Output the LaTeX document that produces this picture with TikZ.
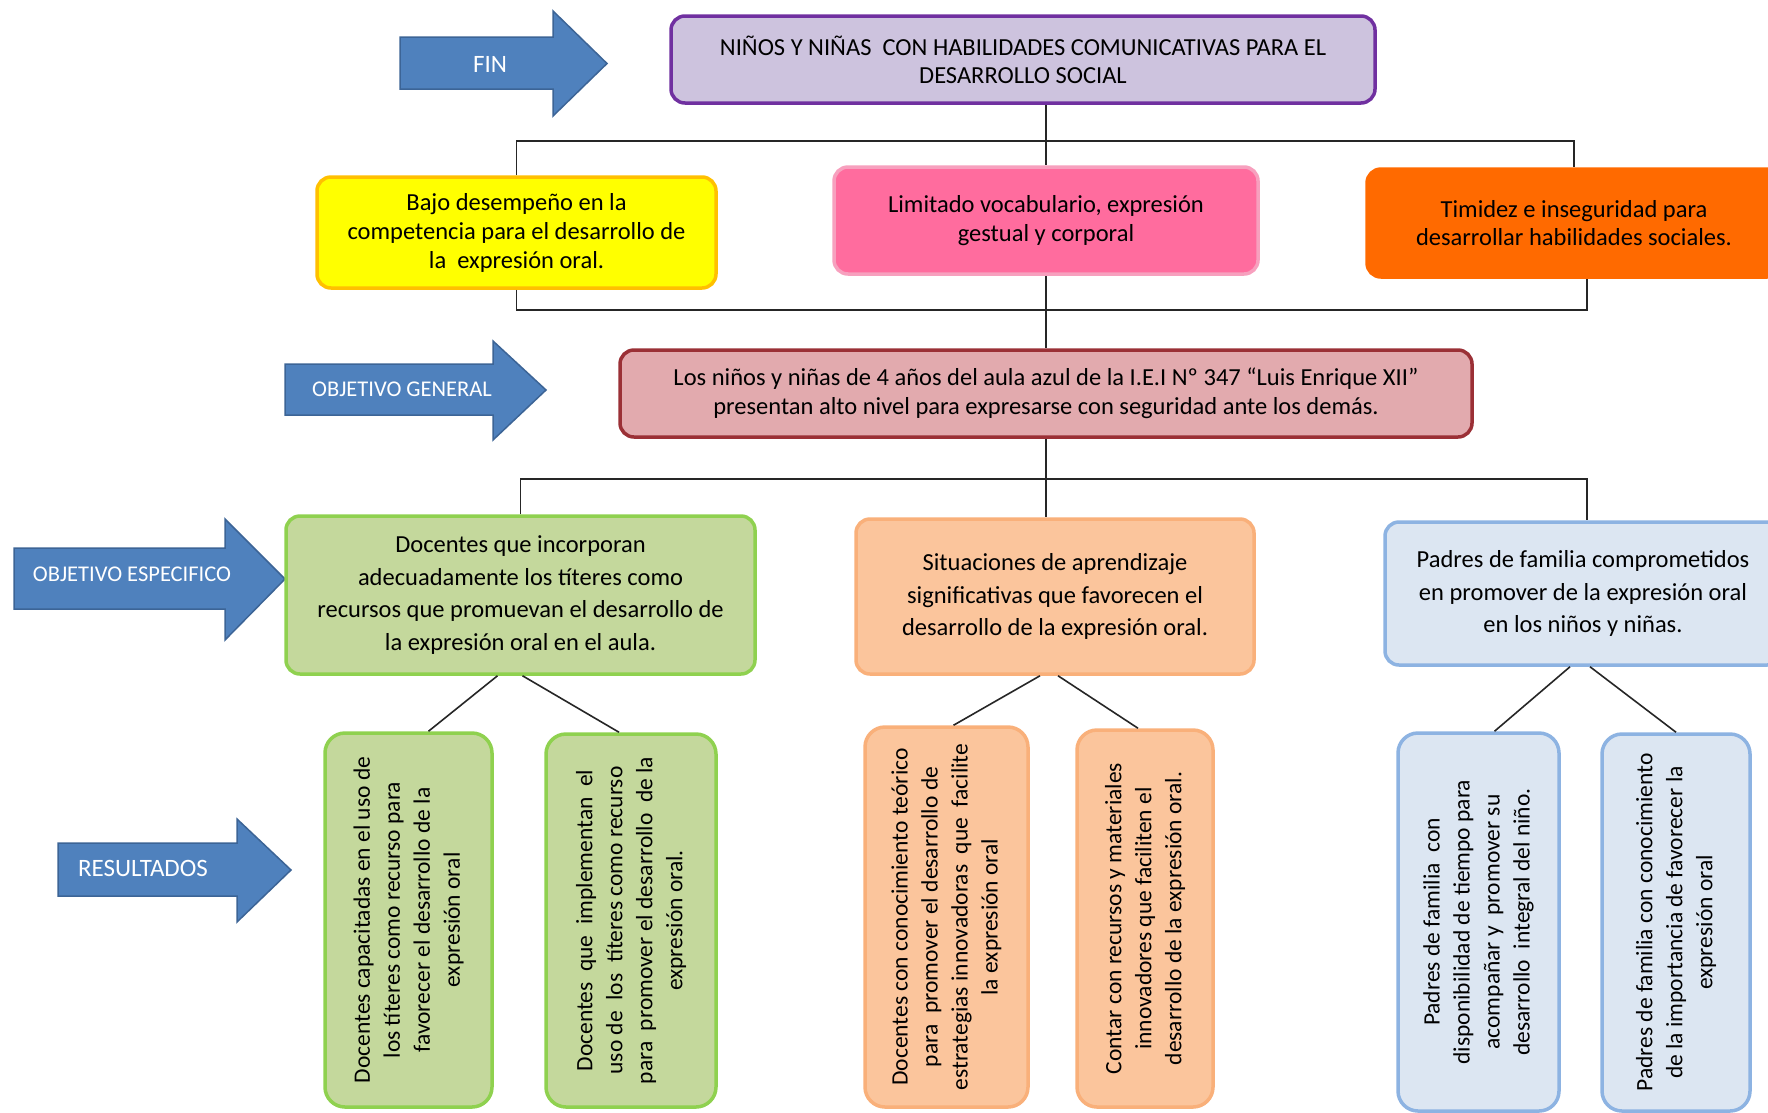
\documentclass[tikz,border=0pt]{standalone}
\usepackage{fontspec}
\setmainfont{Carlito}
\definecolor{arrowblue}{HTML}{4F81BD}
\definecolor{arrowedge}{HTML}{3C6496}
\definecolor{lav}{HTML}{CDC3DE}
\definecolor{purp}{HTML}{7030A0}
\definecolor{ylw}{HTML}{FFFF00}
\definecolor{gold}{HTML}{FFC000}
\definecolor{pinkf}{HTML}{FF6C9E}
\definecolor{pinkd}{HTML}{F7A0BE}
\definecolor{orgf}{HTML}{FF6A00}
\definecolor{rosef}{HTML}{E2AAAE}
\definecolor{rosed}{HTML}{9B3036}
\definecolor{grnf}{HTML}{C4D89C}
\definecolor{grnd}{HTML}{8FD14F}
\definecolor{pchf}{HTML}{FBC59C}
\definecolor{pchd}{HTML}{F9B07A}
\definecolor{bluf}{HTML}{DCE6F2}
\definecolor{blud}{HTML}{8DB3E2}
\begin{document}
\begin{tikzpicture}[x=1pt,y=-1pt,
  box/.style={rounded corners=14pt, line width=3.5pt, inner sep=0pt, align=center, text=black},
  mtxt/.style={font=\fontsize{24.5}{29}\selectfont},
  btxt/.style={font=\fontsize{24.5}{32.5}\selectfont},
  rtxt/.style={rotate=90, font=\fontsize{23.5}{30}\selectfont, rounded corners=20pt},
  bigarrow/.style={fill=arrowblue, draw=arrowedge, line width=1.5pt, line join=miter},
  arrowtxt/.style={text=white, inner sep=0pt},
  conn/.style={draw=black!85, line width=1.6pt}]
\useasboundingbox (0,0) rectangle (1768,1112);
\fill[white] (0,0) rectangle (1768,1112);

% ---- arrows
\draw[bigarrow] (400,37) -- (553,37) -- (553,11) -- (607,63.5) -- (553,116) -- (553,89) -- (400,89) -- cycle;
\node[arrowtxt, font=\fontsize{25}{28}\selectfont] (finlbl) at (490,64) {FIN};
\draw[bigarrow] (285,364) -- (493,364) -- (493,341) -- (546,390) -- (493,440) -- (493,415) -- (285,415) -- cycle;
\node[arrowtxt, font=\fontsize{22.5}{26}\selectfont] (oglbl) at (402,389) {OBJETIVO GENERAL};
\draw[bigarrow] (14,548) -- (225,548) -- (225,519) -- (285,579) -- (225,640) -- (225,609) -- (14,609) -- cycle;
\node[arrowtxt, font=\fontsize{22.5}{26}\selectfont] (oelbl) at (132,574) {OBJETIVO ESPECIFICO};
\draw[bigarrow] (58,843) -- (237,843) -- (237,819) -- (291,870) -- (237,922) -- (237,896) -- (58,896) -- cycle;
\node[arrowtxt, font=\fontsize{25}{28}\selectfont] (reslbl) at (143,868) {RESULTADOS};

% ---- main boxes
\node[box, fill=lav, draw=purp, minimum width=704, minimum height=87, font=\fontsize{24.5}{28}\selectfont] (top) at (1023,59.5)
  {NIÑOS Y NIÑAS \ CON HABILIDADES COMUNICATIVAS PARA EL\\DESARROLLO SOCIAL};
\node[box, mtxt, fill=ylw, draw=gold, minimum width=399, minimum height=111] (yellow) at (516.5,232.5)
  {Bajo desempeño en la\\competencia para el desarrollo de\\la \ expresión oral.};
\node[box, fill=pinkf, draw=pinkd, minimum width=424, minimum height=107, font=\fontsize{24.5}{28.5}\selectfont] (pink) at (1046,220.5)
  {Limitado vocabulario, expresión\\gestual y corporal};
\node[box, fill=orgf, draw=orgf, minimum width=414, minimum height=108, font=\fontsize{24.5}{28.5}\selectfont] (orange) at (1574,223)
  {Timidez e inseguridad para\\desarrollar habilidades sociales.};
\node[box, mtxt, fill=rosef, draw=rosed, minimum width=852, minimum height=87] (red) at (1046,393.5)
  {Los niños y niñas de 4 años del aula azul de la I.E.I Nº 347 “Luis Enrique XII”\\presentan alto nivel para expresarse con seguridad ante los demás.};
\node[box, btxt, fill=grnf, draw=grnd, minimum width=469, minimum height=158] (green) at (520.5,595)
  {Docentes que incorporan\\adecuadamente los títeres como\\recursos que promuevan el desarrollo de\\la expresión oral en el aula.};
\node[box, btxt, fill=pchf, draw=pchd, minimum width=398, minimum height=155] (peach) at (1055,596.5)
  {Situaciones de aprendizaje\\significativas que favorecen el\\desarrollo de la expresión oral.};
\node[box, btxt, fill=bluf, draw=blud, minimum width=396, minimum height=143] (blue) at (1583,593.5)
  {Padres de familia comprometidos\\en promover de la expresión oral\\en los niños y niñas.};

% ---- result boxes (rotated)
\node[box, rtxt, fill=grnf, draw=grnd, minimum width=374, minimum height=167] (g1) at (408.5,920)
  {Docentes capacitadas en el uso de\\los títeres como recurso para\\favorecer el desarrollo de la\\expresión oral};
\node[box, rtxt, fill=grnf, draw=grnd, minimum width=373, minimum height=170] (g2) at (631,920.5)
  {Docentes \ que \ implementan \ el\\uso de \ los \ títeres como recurso\\para \ promover el desarrollo \ de la\\expresión oral.};
\node[box, rtxt, fill=pchf, draw=pchd, minimum width=380, minimum height=163] (p1) at (946.5,917)
  {Docentes con conocimiento teórico\\para \ promover el desarrollo de\\estrategias innovadoras \ que \ facilite\\la expresión oral};
\node[box, rtxt, fill=pchf, draw=pchd, minimum width=377, minimum height=136] (p2) at (1145,918.5)
  {Contar con recursos y materiales\\innovadores que faciliten el\\desarrollo de la expresión oral.};
\node[box, rtxt, fill=bluf, draw=blud, minimum width=378, minimum height=161] (b1) at (1478.5,922)
  {Padres de familia \ con\\disponibilidad de tiempo para\\acompañar y \ promover su\\desarrollo \ integral del niño.};
\node[box, rtxt, fill=bluf, draw=blud, minimum width=377, minimum height=148] (b2) at (1676,922.5)
  {Padres de familia con conocimiento\\de la importancia de favorecer la\\expresión oral};

% ---- bracket rows
\coordinate (r1) at (0,141);
\coordinate (r2) at (0,310);
\coordinate (r3) at (0,479);
\coordinate (ob) at ([xshift=13pt]orange.south);
\coordinate (bt) at ([xshift=4pt]blue.north);

\draw[conn] (top.south -| pink.north) -- (pink.north);
\draw[conn] (yellow.north) -- (yellow.north |- r1) -- (orange.north |- r1) -- (orange.north);
\draw[conn] (yellow.south) -- (yellow.south |- r2) -- (ob |- r2) -- (ob);
\draw[conn] (pink.south) -- (red.north);
\draw[conn] (red.south) -- (red.south |- peach.north);
\draw[conn] (green.north) -- (green.north |- r3) -- (bt |- r3) -- (bt);

% ---- result connectors
\draw[conn] ([xshift=-23pt]green.south) -- ([xshift=20pt]g1.east);
\draw[conn] ([xshift=2pt]green.south) -- ([xshift=-12pt]g2.east);
\draw[conn] ([xshift=-15pt]peach.south) -- ([xshift=7pt]p1.east);
\draw[conn] ([xshift=3pt]peach.south) -- ([xshift=-7pt]p2.east);
\draw[conn] ([xshift=-13pt]blue.south) -- ([xshift=16pt]b1.east);
\draw[conn] ([xshift=7pt]blue.south) -- (b2.east);
\end{tikzpicture}
\end{document}
